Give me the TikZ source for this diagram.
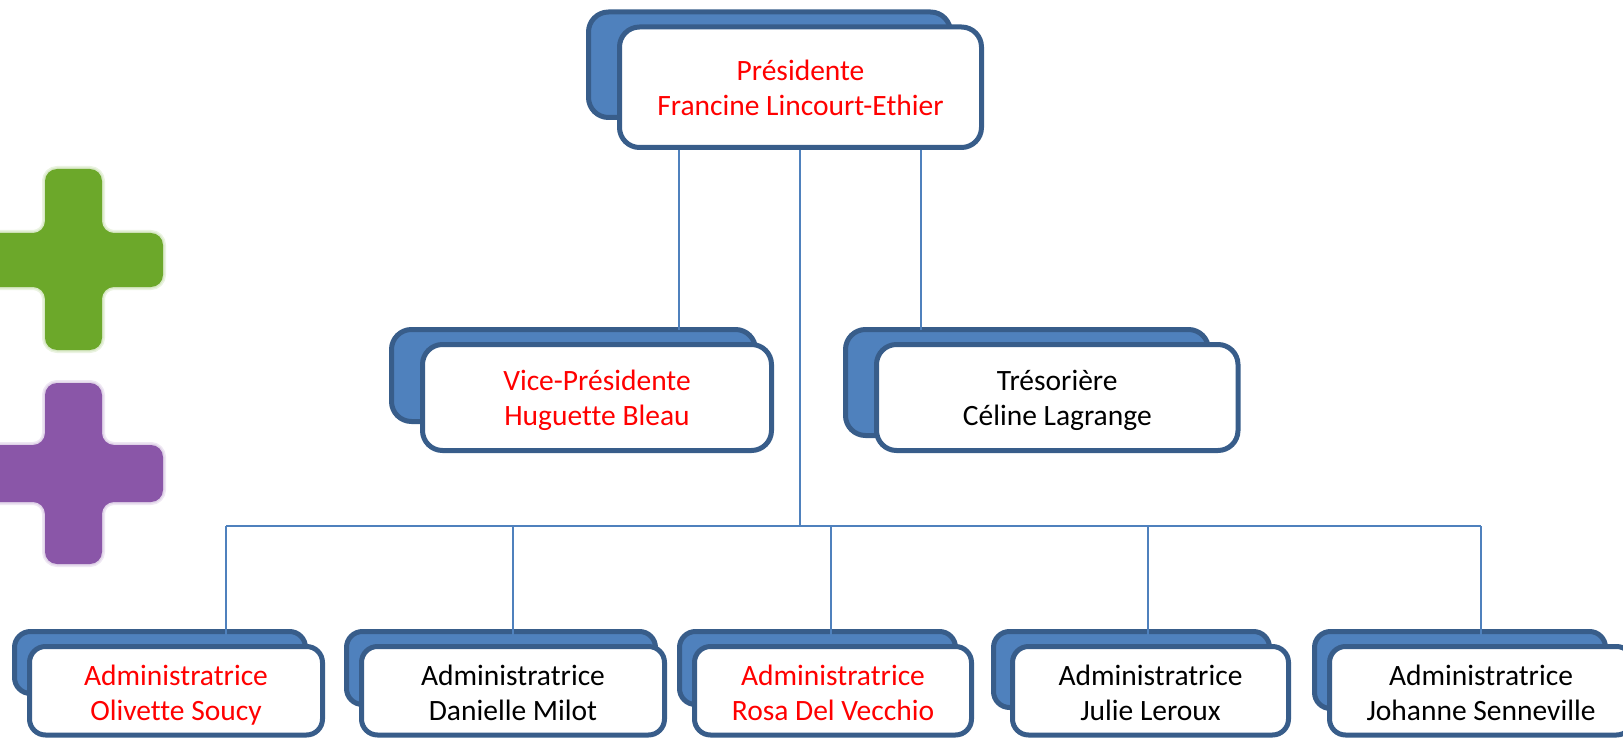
\documentclass[tikz,border=0pt]{standalone}
\usepackage{fontspec}
\setmainfont[Ligatures=NoCommon]{Carlito}
\definecolor{boxblue}{HTML}{4F81BD}
\definecolor{boxedge}{HTML}{385D8A}
\definecolor{crossgreen}{HTML}{6CA82A}
\definecolor{crosspurple}{HTML}{8A56A8}
\pgfdeclarelayer{backlayer}
\pgfdeclarelayer{connlayer}
\pgfsetlayers{backlayer,connlayer,main}
\tikzset{
  frontbox/.style={draw=boxedge,fill=white,line width=5pt,rounded corners=16pt,inner sep=0pt,outer sep=0pt,align=center,font=\fontsize{29.5}{35}\selectfont},
  backbox/.style={draw=boxedge,fill=boxblue,line width=5pt,rounded corners=16pt,inner sep=0pt,outer sep=0pt},
  bigcorner/.style={rounded corners=20pt},
  conn/.style={draw=boxblue,line width=2.2pt},
  redtext/.style={text=red},
  blacktext/.style={text=black},
  halo/.style={draw=#1,opacity=.14,line cap=round,line join=round,rounded corners=12pt}
}
% name, x1,y1,x2,y2 of the centre line, style, raise strut, text
\newcommand{\frontnode}[8]{%
  \pgfmathsetmacro{\cxx}{(#2+#4)/2}\pgfmathsetmacro{\cyy}{(#3+#5)/2}%
  \pgfmathsetmacro{\wdd}{#4-#2}\pgfmathsetmacro{\htt}{#5-#3}%
  \node[frontbox,#6,minimum width=\wdd pt,minimum height=\htt pt] (#1) at (\cxx,\cyy) {\rule{0pt}{#7pt}#8\rule[-8pt]{0pt}{8pt}};}
\newcommand{\backnode}[6][]{%
  \pgfmathsetmacro{\cxx}{(#3+#5)/2}\pgfmathsetmacro{\cyy}{(#4+#6)/2}%
  \pgfmathsetmacro{\wdd}{#5-#3}\pgfmathsetmacro{\htt}{#6-#4}%
  \node[backbox,#1,minimum width=\wdd pt,minimum height=\htt pt] (#2) at (\cxx,\cyy) {};}
\newcommand{\greenpath}{(45,169) -- (102,169) -- (102,233) -- (163,233) -- (163,287) -- (102,287) -- (102,350) -- (45,350) -- (45,287) -- (-20,287) -- (-20,233) -- (45,233) -- cycle}
\newcommand{\purplepath}{(45,383) -- (102,383) -- (102,445) -- (163,445) -- (163,502) -- (102,502) -- (102,564) -- (45,564) -- (45,502) -- (-20,502) -- (-20,445) -- (45,445) -- cycle}
\begin{document}
\begin{tikzpicture}[x=1pt,y=-1pt]
\useasboundingbox (0,0) rectangle (1623,738);
% crosses
\draw[halo=crossgreen,line width=6pt] \greenpath;
\draw[halo=crossgreen,line width=3pt] \greenpath;
\fill[crossgreen,rounded corners=12pt] \greenpath;
\draw[halo=crosspurple,line width=6pt] \purplepath;
\draw[halo=crosspurple,line width=3pt] \purplepath;
\fill[crosspurple,rounded corners=12pt] \purplepath;
% front boxes
\frontnode{pres}{619.5}{27}{981.5}{147.5}{redtext,bigcorner}{29.5}{Présidente\\Francine Lincourt-Ethier}
\frontnode{vice}{422.5}{344.5}{771.5}{450.5}{redtext,bigcorner}{29.5}{Vice-Présidente\\Huguette Bleau}
\frontnode{tres}{876.5}{344.5}{1238}{450.5}{blacktext,bigcorner}{29.5}{Trésorière\\Céline Lagrange}
\frontnode{adma}{29.5}{646.5}{322.5}{735}{redtext}{32}{Administratrice\\Olivette Soucy}
\frontnode{admb}{361.5}{646.5}{664.5}{735}{blacktext}{32}{Administratrice\\Danielle Milot}
\frontnode{admc}{694.5}{646.5}{971.5}{735}{redtext}{32}{Administratrice\\Rosa Del Vecchio}
\frontnode{admd}{1012.5}{646.5}{1288.5}{735}{blacktext}{32}{Administratrice\\Julie Leroux}
\frontnode{adme}{1329.5}{646.5}{1632.5}{735}{blacktext}{32}{Administratrice\\Johanne Senneville}
% back boxes
\begin{pgfonlayer}{backlayer}
\backnode[bigcorner]{presb}{588.5}{12}{950.5}{117.5}
\backnode[bigcorner]{viceb}{391.5}{329.5}{755.5}{421.5}
\backnode[bigcorner]{tresb}{845.5}{329.5}{1208.5}{435.5}
\backnode{admab}{14.5}{631.5}{305.5}{693.5}
\backnode{admbb}{346.5}{631.5}{655.5}{704.5}
\backnode{admcb}{679.5}{631.5}{955.5}{704.5}
\backnode{admdb}{993.5}{631.5}{1269.5}{707.5}
\backnode{admeb}{1314.5}{631.5}{1605.5}{708.5}
\end{pgfonlayer}
% connectors
\coordinate (xv) at (679,0);
\coordinate (xt) at (921,0);
\coordinate (bus) at (800,526);
\coordinate (ta) at (226,526);
\coordinate (tb) at (513,526);
\coordinate (tc) at (831,526);
\coordinate (td) at (1148,526);
\coordinate (te) at (1481,526);
\begin{pgfonlayer}{connlayer}
\draw[conn] (pres.south -| xv) -- (viceb.north -| xv);
\draw[conn] (pres.south -| xt) -- (tresb.north -| xt);
\draw[conn] (pres.south -| bus) -- (bus);
\draw[conn] (ta) -- (te);
\draw[conn] (ta) -- (adma.north -| ta);
\draw[conn] (tb) -- (admb.north -| tb);
\draw[conn] (tc) -- (admc.north -| tc);
\draw[conn] (td) -- (admd.north -| td);
\draw[conn] (te) -- (adme.north -| te);
\end{pgfonlayer}
\end{tikzpicture}
\end{document}
